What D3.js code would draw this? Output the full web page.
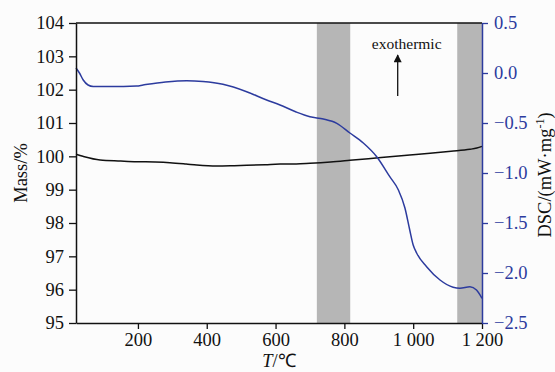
<!DOCTYPE html>
<html>
<head>
<meta charset="utf-8">
<script src="https://cdn.jsdelivr.net/npm/d3@7"></script>
<style>
    body { margin: 0; background: #fcfcfc; }
    svg { display: block; }
    svg text { font-family: "Liberation Serif", "Times New Roman", serif; }
</style>
</head>
<body>
<svg id="chart" width="555" height="372"></svg>
<script>
// temperature (°C) and mass (%)
const massT = [20, 40, 90, 150, 196, 250, 293, 340, 371, 429, 480, 516, 570, 613, 660, 700, 760, 816, 870, 932, 990, 1049, 1110, 1165, 1185, 1200];
const massVal = [100.06, 100.0, 99.89, 99.86, 99.84, 99.83, 99.81, 99.77, 99.74, 99.71, 99.72, 99.73, 99.75, 99.77, 99.77, 99.79, 99.83, 99.88, 99.93, 99.99, 100.04, 100.09, 100.15, 100.21, 100.25, 100.3];

// temperature (°C) and DSC (mW/mg)
const dscT = [20, 30, 41, 55, 70, 120, 196, 215, 280, 342, 389, 447, 516, 574, 613, 660, 700, 739, 778, 816, 855, 894, 932, 957, 976, 990, 1000, 1010, 1039, 1078, 1116, 1136, 1165, 1184, 1200];
const dscVal = [0.05, 0.0, -0.07, -0.12, -0.135, -0.135, -0.13, -0.12, -0.09, -0.077, -0.085, -0.113, -0.187, -0.27, -0.32, -0.39, -0.437, -0.46, -0.503, -0.60, -0.70, -0.837, -1.037, -1.17, -1.35, -1.57, -1.72, -1.80, -1.937, -2.07, -2.143, -2.153, -2.137, -2.17, -2.253];

// shaded temperature ranges
const bands = [[720, 817], [1128, 1200]];

const xTicks = [200, 400, 600, 800, 1000, 1200];
const massTicks = [95, 96, 97, 98, 99, 100, 101, 102, 103, 104];
const dscTicks = [0.5, 0.0, -0.5, -1.0, -1.5, -2.0, -2.5];

// annotation: arrow position (T, DSC) and label
const arrowT = 955;
const arrowFrom = -0.23;
const arrowTo = 0.18;
const arrowLabel = 'exothermic';

const blue = '#2c3b9e';
const margin = { top: 23, right: 73, bottom: 49, left: 76 };
const width = 555 - margin.left - margin.right;
const height = 372 - margin.top - margin.bottom;

const svg = d3.select('#chart');
const g = svg.append('g').attr('transform', `translate(${margin.left},${margin.top})`);

const x = d3.scaleLinear().domain([20, 1200]).range([0, width]);
const yMass = d3.scaleLinear().domain([95, 104]).range([height, 0]);
const yDsc = d3.scaleLinear().domain([-2.5, 0.5]).range([height, 0]);

g.selectAll('rect.band')
    .data(bands)
    .enter()
    .append('rect')
    .classed('band', true)
    .attr('x', d => x(d[0]))
    .attr('y', 0)
    .attr('width', d => x(d[1]) - x(d[0]))
    .attr('height', height)
    .attr('fill', '#b6b6b6');

const massLine = d3.line()
    .x(d => x(d[0]))
    .y(d => yMass(d[1]))
    .curve(d3.curveMonotoneX);
const dscLine = d3.line()
    .x(d => x(d[0]))
    .y(d => yDsc(d[1]))
    .curve(d3.curveMonotoneX);

g.append('path')
    .datum(massT.map((t, i) => [t, massVal[i]]))
    .attr('d', massLine)
    .attr('fill', 'none')
    .attr('stroke', '#111')
    .attr('stroke-width', 1.5);

g.append('path')
    .datum(dscT.map((t, i) => [t, dscVal[i]]))
    .attr('d', dscLine)
    .attr('fill', 'none')
    .attr('stroke', blue)
    .attr('stroke-width', 1.5);

// top frame line
g.append('line')
    .attr('x1', 0).attr('x2', width)
    .attr('y1', 0).attr('y2', 0)
    .attr('stroke', '#111')
    .attr('stroke-width', 1.5);

const fmtX = d => d >= 1000 ? d3.format(',')(d).replace(',', ' ') : String(d);

const xAxis = g.append('g')
    .attr('transform', `translate(0,${height})`)
    .call(d3.axisBottom(x).tickValues(xTicks).tickFormat(fmtX).tickSize(6).tickPadding(4).tickSizeOuter(0));

const leftAxis = g.append('g')
    .call(d3.axisLeft(yMass).tickValues(massTicks).tickFormat(d3.format('d')).tickSize(7).tickPadding(5).tickSizeOuter(0));

const rightAxis = g.append('g')
    .attr('transform', `translate(${width},0)`)
    .call(d3.axisRight(yDsc).tickValues(dscTicks).tickFormat(d3.format('.1f')).tickSize(6).tickPadding(6).tickSizeOuter(0));

[xAxis, leftAxis, rightAxis].forEach(a => a.attr('font-family', null).attr('font-size', null));

[xAxis, leftAxis].forEach(a => {
    a.select('.domain').attr('stroke', '#111').attr('stroke-width', 1.5);
    a.selectAll('.tick line').attr('stroke', '#111').attr('stroke-width', 1.3);
    a.selectAll('.tick text').attr('fill', '#111').style('font-size', '18.5px');
});
rightAxis.select('.domain').attr('stroke', blue).attr('stroke-width', 1.5);
rightAxis.selectAll('.tick line').attr('stroke', blue).attr('stroke-width', 1.3);
rightAxis.selectAll('.tick text').attr('fill', blue).style('font-size', '18.5px');

// axis titles
svg.append('text')
    .attr('transform', `translate(27,${margin.top + height / 2}) rotate(-90)`)
    .attr('text-anchor', 'middle')
    .style('font-size', '18.5px')
    .attr('fill', '#111')
    .text('Mass/%');

const dscTitle = svg.append('text')
    .attr('transform', `translate(551,${margin.top + height / 2 + 2}) rotate(-90)`)
    .attr('text-anchor', 'middle')
    .style('font-size', '18.5px')
    .attr('fill', '#111');
dscTitle.append('tspan').text('DSC/(mW·mg');
dscTitle.append('tspan').attr('dy', -7).style('font-size', '12px').text('-1');
dscTitle.append('tspan').attr('dy', 7).text(')');

const xTitle = svg.append('text')
    .attr('x', margin.left + x(610))
    .attr('y', 367)
    .attr('text-anchor', 'middle')
    .style('font-size', '18.5px')
    .attr('fill', '#111');
xTitle.append('tspan').style('font-style', 'italic').text('T');
xTitle.append('tspan').text('/℃');

// exothermic arrow
svg.append('defs').append('marker')
    .attr('id', 'arrowhead')
    .attr('viewBox', '0 0 10 10')
    .attr('refX', 9).attr('refY', 5)
    .attr('markerWidth', 10).attr('markerHeight', 8)
    .attr('markerUnits', 'userSpaceOnUse')
    .attr('orient', 'auto')
    .append('path')
    .attr('d', 'M0,0 L10,5 L0,10 z')
    .attr('fill', '#111');

g.append('line')
    .attr('x1', x(arrowT)).attr('x2', x(arrowT))
    .attr('y1', yDsc(arrowFrom)).attr('y2', yDsc(arrowTo))
    .attr('stroke', '#111')
    .attr('stroke-width', 1.3)
    .attr('marker-end', 'url(#arrowhead)');

g.append('text')
    .attr('x', x(arrowT) + 9)
    .attr('y', yDsc(arrowTo) - 6)
    .attr('text-anchor', 'middle')
    .style('font-size', '15.5px')
    .attr('fill', '#111')
    .text(arrowLabel);
</script>
</body>
</html>
